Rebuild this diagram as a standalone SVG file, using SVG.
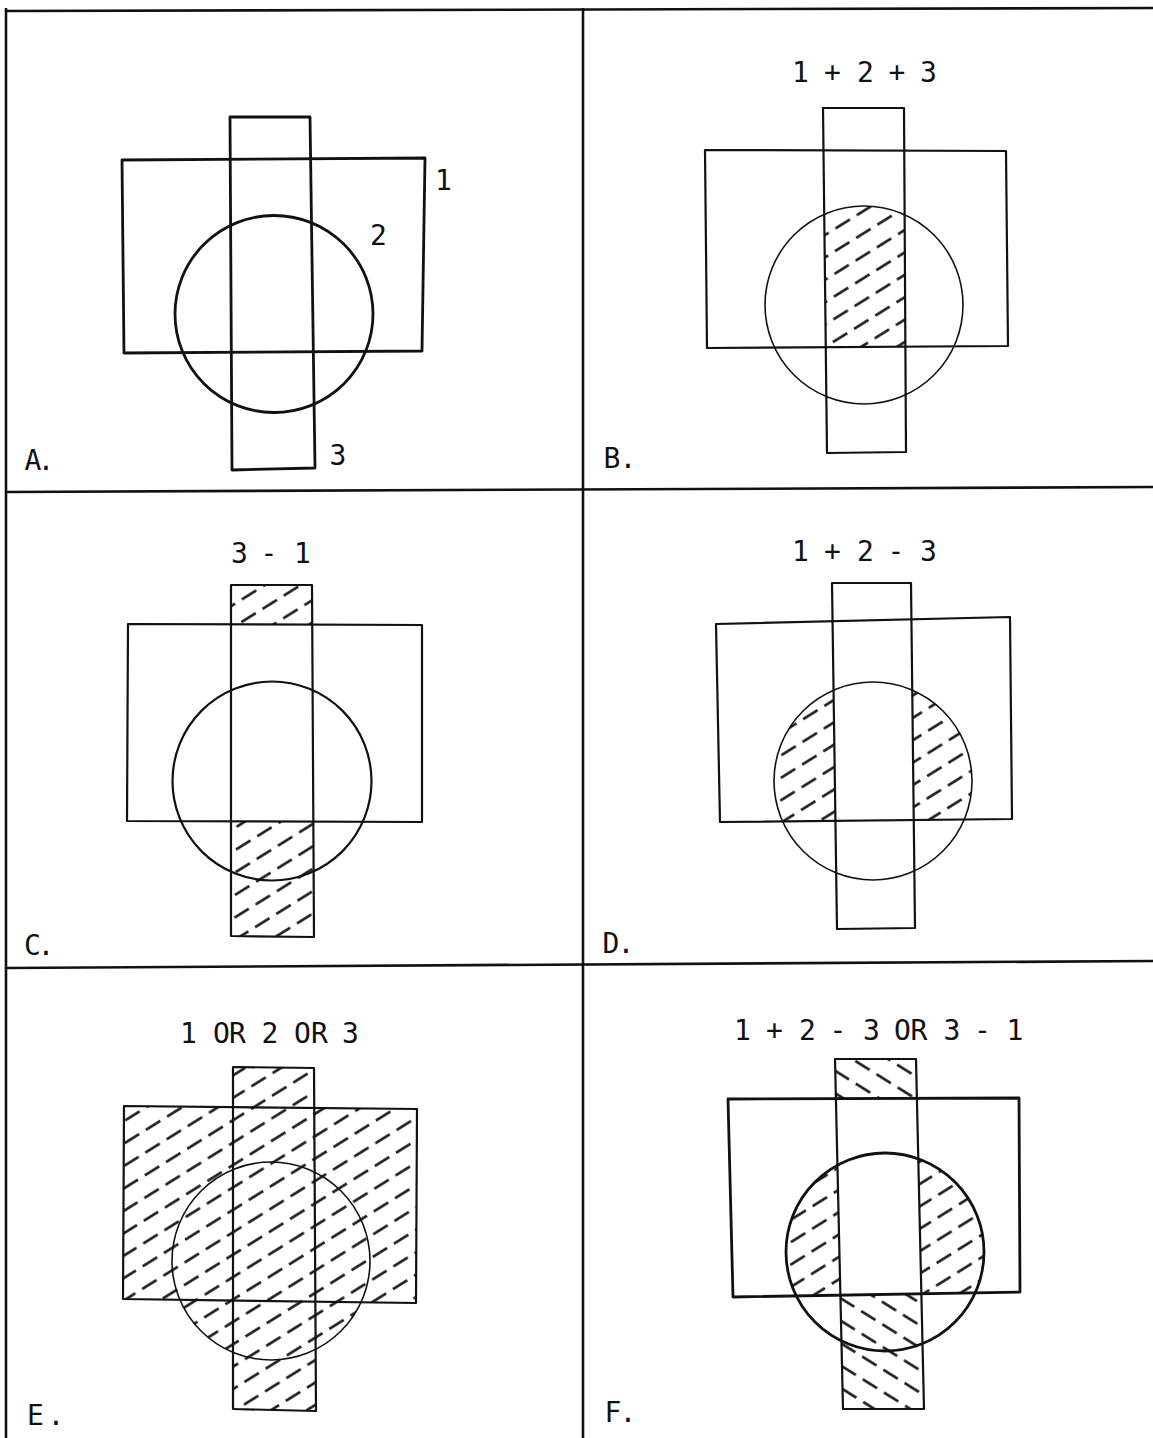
<svg xmlns="http://www.w3.org/2000/svg" width="1153" height="1438" viewBox="0 0 1153 1438">
<style>
.g{stroke:#111;stroke-width:2.6;fill:none}
.o{stroke:#111;fill:none;stroke-width:2.2;stroke-linejoin:round}
.k{stroke-width:2.8}
.n{stroke-width:1.6}
.t{font-family:"DejaVu Sans Mono","Liberation Mono",monospace;font-size:28px;fill:#111;text-anchor:middle}
.hd{stroke:#111;stroke-width:2.4;fill:none}
</style>
<defs>
<pattern id="hR" patternUnits="userSpaceOnUse" width="25" height="38" patternTransform="rotate(-32)">
<path class="hd" d="M0 9.5H17M12.5 28.5H25M0 28.5H4.5"/>
</pattern>
<pattern id="hL" patternUnits="userSpaceOnUse" width="25" height="38" patternTransform="rotate(32)">
<path class="hd" d="M0 9.5H17M12.5 28.5H25M0 28.5H4.5"/>
</pattern>
<clipPath id="B_r1"><polygon points="705,150 1006,151 1008,346 707,348"/></clipPath>
<clipPath id="B_r3"><polygon points="823,108 904,108 906,452 827,453"/></clipPath>
<clipPath id="B_c"><circle cx="864" cy="305" r="99"/></clipPath>
<mask id="C_m" maskUnits="userSpaceOnUse" x="0" y="0" width="1153" height="1438">
<polygon points="231,585 312,585 314,937 231,936" fill="#fff"/>
<polygon points="128,624 422,625 422,822 127,821" fill="#000"/>
</mask>
<clipPath id="D_r1"><polygon points="716,624 1010,617 1012,819 720,822"/></clipPath>
<clipPath id="D_c"><circle cx="873" cy="781" r="99"/></clipPath>
<mask id="D_m" maskUnits="userSpaceOnUse" x="0" y="0" width="1153" height="1438">
<rect x="0" y="0" width="1153" height="1438" fill="#fff"/>
<polygon points="832,583 911,583 915,928 837,929" fill="#000"/>
</mask>
<clipPath id="E_u">
<polygon points="124,1106 417,1109 416,1303 123,1299"/>
<polygon points="233,1067 314,1068 316,1411 233,1409"/>
<circle cx="271" cy="1261" r="99"/>
</clipPath>
<clipPath id="F_r1"><polygon points="728,1099 1019,1098 1020,1292 733,1297"/></clipPath>
<clipPath id="F_c"><circle cx="885" cy="1252" r="99"/></clipPath>
<mask id="F_m" maskUnits="userSpaceOnUse" x="0" y="0" width="1153" height="1438">
<rect x="0" y="0" width="1153" height="1438" fill="#fff"/>
<polygon points="835,1059 916,1059 924,1409 843,1409" fill="#000"/>
</mask>
<mask id="F_m2" maskUnits="userSpaceOnUse" x="0" y="0" width="1153" height="1438">
<polygon points="835,1059 916,1059 924,1409 843,1409" fill="#fff"/>
<polygon points="728,1099 1019,1098 1020,1292 733,1297" fill="#000"/>
</mask>
</defs>
<rect x="0" y="0" width="1153" height="1438" fill="#fff"/>

<g id="grid">
<line class="g" x1="5" y1="11" x2="1153" y2="8"/>
<line class="g" x1="6" y1="8" x2="6" y2="1438"/>
<line class="g" x1="583" y1="8" x2="583" y2="1438"/>
<line class="g" x1="6" y1="492" x2="1153" y2="487"/>
<line class="g" x1="6" y1="968" x2="1153" y2="961"/>
</g>

<g id="panelA">
<polygon class="o k" points="122,160 425,158 422,351 124,353"/>
<polygon class="o k" points="230,117 310,117 315,468 232,470"/>
<ellipse class="o k" cx="274" cy="314" rx="99" ry="98.5"/>
<text class="t" x="443.5" y="190">1</text>
<text class="t" x="378.5" y="245">2</text>
<text class="t" x="338" y="465">3</text>
<text class="t" x="33 46" y="470">A.</text>
</g>

<g id="panelB">
<g clip-path="url(#B_r1)"><g clip-path="url(#B_c)"><g clip-path="url(#B_r3)">
<rect x="600" y="100" width="450" height="360" fill="url(#hR)"/>
</g></g></g>
<polygon class="o" points="705,150 1006,151 1008,346 707,348"/>
<polygon class="o" points="823,108 904,108 906,452 827,453"/>
<circle class="o n" cx="864" cy="305" r="99"/>
<text class="t" x="800.5 815 832.5 849 865.5 881 897 913 928.5" y="82">1 + 2 + 3</text>
<text class="t" x="612 628" y="468">B.</text>
</g>

<g id="panelC">
<g mask="url(#C_m)">
<rect x="100" y="570" width="350" height="380" fill="url(#hR)"/>
</g>
<polygon class="o" points="128,624 422,625 422,822 127,821"/>
<polygon class="o" points="231,585 312,585 314,937 231,936"/>
<circle class="o" cx="272" cy="781" r="99.5"/>
<text class="t" x="239.5 255 269 285 302.5" y="563">3 - 1</text>
<text class="t" x="32.5 46" y="955">C.</text>
</g>

<g id="panelD">
<g clip-path="url(#D_r1)"><g clip-path="url(#D_c)"><g mask="url(#D_m)">
<rect x="700" y="600" width="330" height="300" fill="url(#hR)"/>
</g></g></g>
<polygon class="o" points="716,624 1010,617 1012,819 720,822"/>
<polygon class="o" points="832,583 911,583 915,928 837,929"/>
<circle class="o n" cx="873" cy="781" r="99"/>
<text class="t" x="800.5 815 832.5 849 865.5 881 896 913 928.5" y="561">1 + 2 - 3</text>
<text class="t" x="611 626" y="953">D.</text>
</g>

<g id="panelE">
<g clip-path="url(#E_u)">
<rect x="100" y="1050" width="350" height="380" fill="url(#hR)"/>
</g>
<polygon class="o" points="124,1106 417,1109 416,1303 123,1299"/>
<polygon class="o" points="233,1067 314,1068 316,1411 233,1409"/>
<circle class="o n" cx="271" cy="1261" r="99"/>
<text class="t" x="188.5 202 221.5 237.5 251 270 284 302.5 319.5 332 350.5" y="1043">1 OR 2 OR 3</text>
<text class="t" x="35.5 56" y="1425">E.</text>
</g>

<g id="panelF">
<g clip-path="url(#F_r1)"><g clip-path="url(#F_c)"><g mask="url(#F_m)">
<rect x="700" y="1080" width="340" height="240" fill="url(#hR)"/>
</g></g></g>
<g mask="url(#F_m2)">
<rect x="820" y="1050" width="120" height="370" fill="url(#hL)"/>
</g>
<polygon class="o k" points="728,1099 1019,1098 1020,1292 733,1297"/>
<polygon class="o" points="835,1059 916,1059 924,1409 843,1409"/>
<circle class="o k" cx="885" cy="1252" r="99"/>
<text class="t" x="742.5 756 774.5 788 807.5 820 838 852 871.5 884 902.5 919 932 952 965 982.5 1000 1015" y="1040">1 + 2 - 3 OR 3 - 1</text>
<text class="t" x="613 628" y="1422">F.</text>
</g>
</svg>
